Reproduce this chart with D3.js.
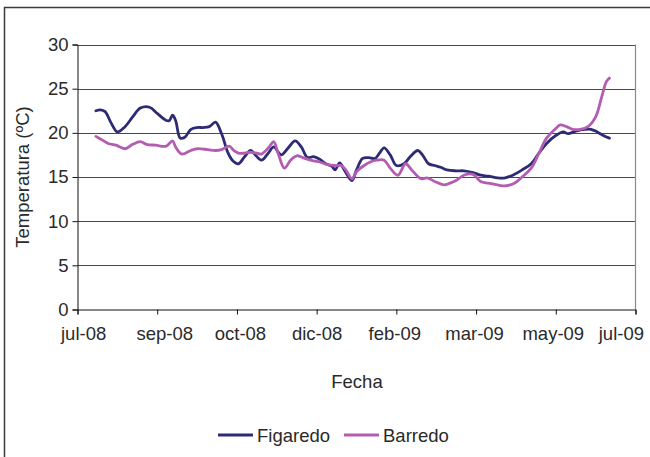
<!DOCTYPE html>
<html>
<head>
<meta charset="utf-8">
<script src="https://cdn.jsdelivr.net/npm/d3@7"></script>
<style>
  html, body { margin: 0; padding: 0; background: #fff; }
  svg { display: block; }
  text { font-family: "Liberation Sans", Arial, sans-serif; fill: #2a2a2a; }
</style>
</head>
<body>
<svg id="chart" width="650" height="457"></svg>
<script>
// Weekly mean water temperature (ºC) at two stations, Jul 2008 – Jun 2009
const seriesNames = ["Figaredo", "Barredo"];
const seriesColors = ["#2d2b74", "#b35cb2"];

const figaredo = [
  ["2008-07-24",22.5],["2008-07-27",22.6],["2008-07-30",22.4],["2008-08-03",21.1],["2008-08-07",20.1],
  ["2008-08-12",20.7],["2008-08-17",21.8],["2008-08-22",22.8],["2008-08-28",22.9],["2008-09-02",22.2],
  ["2008-09-08",21.4],["2008-09-10",21.4],["2008-09-12",22.0],["2008-09-14",21.4],["2008-09-17",19.4],
  ["2008-09-20",19.5],["2008-09-24",20.4],["2008-09-28",20.6],["2008-10-02",20.6],["2008-10-06",20.7],
  ["2008-10-10",21.2],["2008-10-14",19.9],["2008-10-18",17.8],["2008-10-21",16.9],["2008-10-25",16.5],
  ["2008-10-29",17.3],["2008-11-02",18.0],["2008-11-05",17.5],["2008-11-09",16.9],["2008-11-13",17.6],
  ["2008-11-17",18.4],["2008-11-20",17.8],["2008-11-22",17.5],["2008-11-26",18.2],["2008-12-01",19.1],
  ["2008-12-05",18.4],["2008-12-09",17.2],["2008-12-13",17.3],["2008-12-17",17.0],["2008-12-21",16.5],
  ["2008-12-25",16.2],["2008-12-27",15.8],["2008-12-30",16.6],["2009-01-02",15.8],["2009-01-07",14.6],
  ["2009-01-10",15.8],["2009-01-14",17.1],["2009-01-18",17.2],["2009-01-22",17.1],["2009-01-25",17.7],
  ["2009-01-28",18.3],["2009-02-01",17.5],["2009-02-05",16.3],["2009-02-10",16.5],["2009-02-14",17.3],
  ["2009-02-19",18.0],["2009-02-22",17.5],["2009-02-26",16.5],["2009-03-02",16.3],["2009-03-06",16.1],
  ["2009-03-10",15.8],["2009-03-16",15.7],["2009-03-21",15.7],["2009-03-27",15.5],["2009-04-01",15.2],
  ["2009-04-06",15.1],["2009-04-12",14.9],["2009-04-17",14.9],["2009-04-23",15.3],["2009-04-28",15.8],
  ["2009-05-04",16.5],["2009-05-09",17.7],["2009-05-14",18.8],["2009-05-20",19.7],["2009-05-25",20.1],
  ["2009-05-28",19.9],["2009-06-02",20.2],["2009-06-08",20.4],["2009-06-12",20.4],["2009-06-16",20.1],
  ["2009-06-20",19.7],["2009-06-24",19.4]
];

const barredo = [
  ["2008-07-24",19.6],["2008-07-28",19.2],["2008-08-01",18.8],["2008-08-06",18.6],["2008-08-12",18.2],
  ["2008-08-17",18.7],["2008-08-22",19.0],["2008-08-26",18.7],["2008-09-01",18.6],["2008-09-08",18.5],
  ["2008-09-12",19.1],["2008-09-14",18.4],["2008-09-18",17.6],["2008-09-24",18.0],["2008-09-28",18.2],
  ["2008-10-05",18.1],["2008-10-10",18.0],["2008-10-14",18.1],["2008-10-19",18.5],["2008-10-22",18.0],
  ["2008-10-25",17.7],["2008-10-29",17.7],["2008-11-02",17.8],["2008-11-06",17.7],["2008-11-09",17.6],
  ["2008-11-14",18.4],["2008-11-17",19.0],["2008-11-20",17.6],["2008-11-24",16.0],["2008-11-28",16.9],
  ["2008-12-02",17.4],["2008-12-06",17.2],["2008-12-11",16.9],["2008-12-17",16.7],["2008-12-22",16.4],
  ["2008-12-27",16.3],["2008-12-31",16.3],["2009-01-03",15.8],["2009-01-07",14.8],["2009-01-10",15.6],
  ["2009-01-15",16.3],["2009-01-19",16.7],["2009-01-23",16.9],["2009-01-28",16.9],["2009-02-01",16.0],
  ["2009-02-06",15.2],["2009-02-11",16.5],["2009-02-15",15.8],["2009-02-21",14.8],["2009-02-25",14.9],
  ["2009-03-02",14.5],["2009-03-08",14.1],["2009-03-12",14.3],["2009-03-16",14.6],["2009-03-21",15.2],
  ["2009-03-27",15.3],["2009-04-01",14.5],["2009-04-06",14.3],["2009-04-12",14.1],["2009-04-17",14.0],
  ["2009-04-23",14.3],["2009-04-28",15.0],["2009-05-04",16.0],["2009-05-09",17.7],["2009-05-14",19.4],
  ["2009-05-20",20.5],["2009-05-23",20.9],["2009-05-27",20.7],["2009-05-31",20.4],["2009-06-05",20.4],
  ["2009-06-10",20.7],["2009-06-15",21.8],["2009-06-19",24.1],["2009-06-22",25.8],["2009-06-24",26.2]
];

// Date axis: major unit of 52 days
const tickDates = ["2008-07-12","2008-09-02","2008-10-24","2008-12-15","2009-02-05","2009-03-29","2009-05-20","2009-07-11"];
const tickLabels = ["jul-08","sep-08","oct-08","dic-08","feb-09","mar-09","may-09","jul-09"];
const yTicks = [0, 5, 10, 15, 20, 25, 30];

const parse = d3.utcParse("%Y-%m-%d");
const series = [figaredo, barredo].map((rows, i) => ({
  name: seriesNames[i],
  color: seriesColors[i],
  values: rows.map(([d, v]) => ({ date: parse(d), value: v }))
}));
const ticks = tickDates.map(parse);

const svg = d3.select("#chart");
const plot = { left: 77.5, right: 635.5, top: 44.5, bottom: 309.5 };
const fontSize = 18.5;

// Outer chart frame
svg.append("rect")
  .attr("x", 4.5).attr("y", 7.5)
  .attr("width", 700).attr("height", 500)
  .attr("fill", "#fff").attr("stroke", "#3a3a3a").attr("stroke-width", 1.5);

const x = d3.scaleUtc()
  .domain([ticks[0], ticks[ticks.length - 1]])
  .range([plot.left, plot.right]);
const y = d3.scaleLinear().domain([0, 30]).range([plot.bottom, plot.top]);

// Horizontal gridlines
svg.append("g")
  .selectAll("line")
  .data(yTicks.filter(t => t > 0))
  .join("line")
  .attr("x1", plot.left).attr("x2", plot.right)
  .attr("y1", d => Math.round(y(d)) + 0.5).attr("y2", d => Math.round(y(d)) + 0.5)
  .attr("stroke", "#4a4a4a").attr("stroke-width", 1);

// Right edge of plot area
svg.append("line")
  .attr("x1", plot.right).attr("x2", plot.right)
  .attr("y1", plot.top).attr("y2", plot.bottom)
  .attr("stroke", "#8a8a8a").attr("stroke-width", 1.2);

// Y axis
const yAxis = svg.append("g")
  .attr("transform", `translate(${plot.left},0)`)
  .call(d3.axisLeft(y).tickValues(yTicks).tickSize(5).tickPadding(4));
yAxis.select(".domain").attr("stroke", "#111");
yAxis.selectAll(".tick line").attr("stroke", "#111");
yAxis.selectAll(".tick text")
  .attr("font-size", fontSize).attr("fill", "#2a2a2a")
  .attr("font-family", "Liberation Sans, Arial, sans-serif");

// X axis
const xAxis = svg.append("g")
  .attr("transform", `translate(0,${plot.bottom})`)
  .call(d3.axisBottom(x).tickValues(ticks).tickSize(5).tickPadding(12)
    .tickFormat((d, i) => tickLabels[i]));
xAxis.select(".domain").attr("stroke", "#111");
xAxis.selectAll(".tick line").attr("stroke", "#111");
xAxis.selectAll(".tick text")
  .attr("font-size", fontSize).attr("fill", "#2a2a2a")
  .attr("font-family", "Liberation Sans, Arial, sans-serif")
  .attr("text-anchor", (d, i) => i === 0 ? "start" : (i === ticks.length - 1 ? "end" : "middle"))
  .attr("dx", (d, i) => i === 0 ? -17 : (i === ticks.length - 1 ? 8 : [0, 7, 3, 0, -2, -2, -3][i]));

// Axis titles
svg.append("text")
  .attr("x", 357).attr("y", 388)
  .attr("text-anchor", "middle").attr("font-size", fontSize)
  .text("Fecha");
svg.append("text")
  .attr("transform", `translate(29,${(plot.top + plot.bottom) / 2}) rotate(-90)`)
  .attr("text-anchor", "middle").attr("font-size", fontSize)
  .text("Temperatura (ºC)");

// Smoothed series lines
const line = d3.line()
  .x(d => x(d.date))
  .y(d => y(d.value))
  .curve(d3.curveCatmullRom.alpha(0.5));

svg.append("g")
  .selectAll("path")
  .data(series)
  .join("path")
  .attr("d", d => line(d.values))
  .attr("fill", "none")
  .attr("stroke", d => d.color)
  .attr("stroke-width", 2.8)
  .attr("stroke-linejoin", "round")
  .attr("stroke-linecap", "round");

// Legend
const legendX = [218, 344];
const legend = svg.append("g").selectAll("g")
  .data(series)
  .join("g")
  .attr("transform", (d, i) => `translate(${legendX[i]},435)`);
legend.append("line")
  .attr("x1", 0).attr("x2", 35)
  .attr("stroke", d => d.color).attr("stroke-width", 2.8);
legend.append("text")
  .attr("x", 39).attr("y", 6.5)
  .attr("font-size", fontSize)
  .text(d => d.name);
</script>
</body>
</html>
